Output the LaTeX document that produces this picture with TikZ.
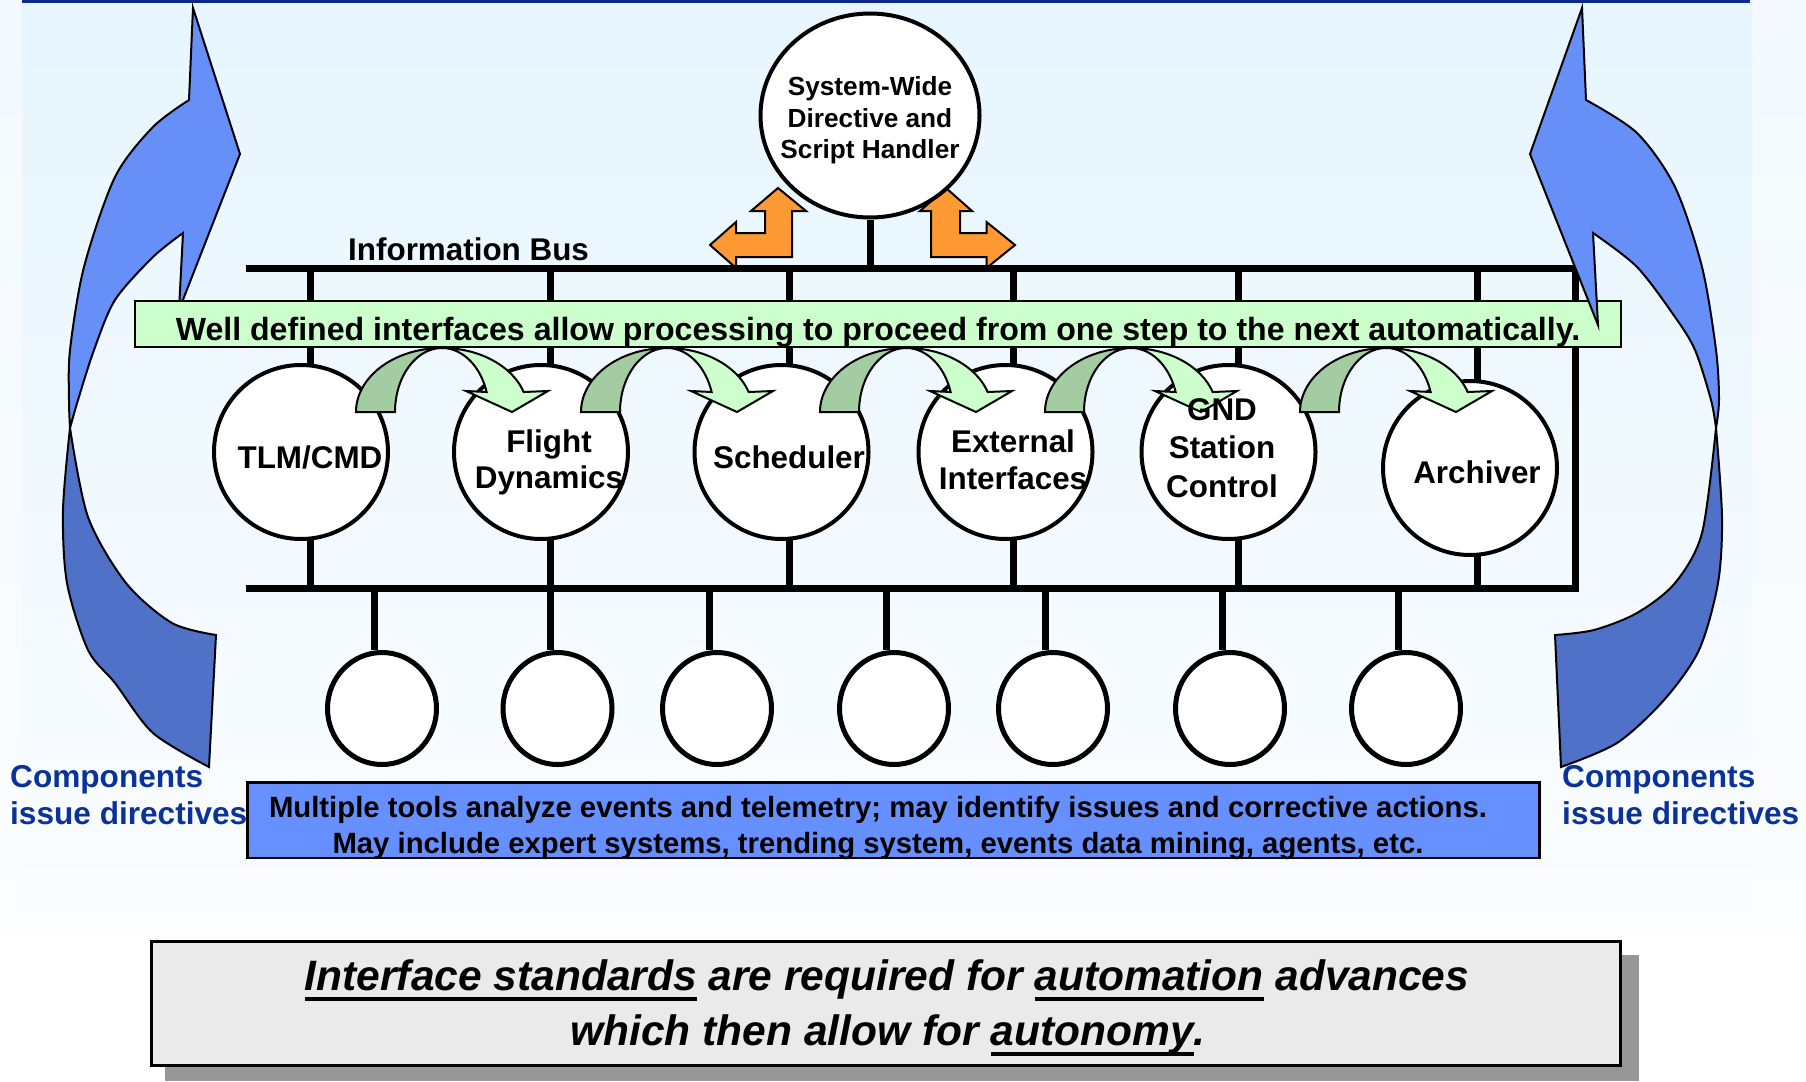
\documentclass[tikz,border=0pt]{standalone}
\usepackage{fontspec}
\setmainfont{Liberation Sans}
\usetikzlibrary{shapes.geometric}
\definecolor{bgtop}{HTML}{E6F5FE}
\definecolor{bgbot}{HTML}{FBFDFF}
\definecolor{sidetop}{HTML}{F3F9FD}
\definecolor{topline}{HTML}{0B2A8A}
\definecolor{blueL}{HTML}{6690F8}
\definecolor{blueD}{HTML}{4F72C8}
\definecolor{txtblue}{HTML}{0A3399}
\definecolor{greenL}{HTML}{CCFFCC}
\definecolor{greenD}{HTML}{A3CCA3}
\definecolor{orangeA}{HTML}{FF9933}
\definecolor{boxblue}{HTML}{6690FF}
\definecolor{boxgray}{HTML}{EAEAEA}
\definecolor{shadowgray}{HTML}{969696}
\newcommand\myul[1]{\setbox0\hbox{#1}\rlap{\rule[-11pt]{\wd0}{4pt}}\box0\relax}
\begin{document}
\begin{tikzpicture}[x=1pt,y=-1pt,line join=miter,
  bus/.style={line width=7pt},
  comp/.style={circle,draw=black,line width=4pt,fill=white,minimum size=174pt,inner sep=0pt},
  tool/.style={ellipse,draw=black,line width=5pt,fill=white,minimum width=109pt,minimum height=112pt,inner sep=0pt},
  sysnode/.style={ellipse,draw=black,line width=4pt,fill=white,minimum width=219pt,minimum height=204pt,inner sep=0pt},
  lbl/.style={font=\bfseries\fontsize{31.4}{36}\selectfont,inner sep=0pt,anchor=base},
  syslbl/.style={font=\bfseries\fontsize{26.2}{30}\selectfont,inner sep=0pt,anchor=base},
  side/.style={font=\bfseries\fontsize{31.6}{36}\selectfont,text=txtblue,inner sep=0pt,anchor=base west},
  tooltxt/.style={font=\bfseries\fontsize{29.3}{34}\selectfont,inner sep=0pt,anchor=base},
  concl/.style={font=\bfseries\itshape\fontsize{42.5}{50}\selectfont,inner sep=0pt,anchor=base},
  blueA/.style={fill=blueL,draw=black,line width=2pt},
  blueB/.style={fill=blueD,draw=black,line width=2pt},
  gdark/.style={fill=greenD,draw=black,line width=2pt},
  glight/.style={fill=greenL,draw=black,line width=2pt},
  orng/.style={fill=orangeA,draw=black,line width=2pt}]
\useasboundingbox (0,0) rectangle (1806,1081);
% background
\fill[white] (0,0) rectangle (1806,1081);
\fill[top color=sidetop,bottom color=bgbot] (0,0) rectangle (1806,935);
\fill[top color=bgtop,bottom color=bgbot] (22,0) rectangle (1752,935);
\draw[topline,line width=3pt] (22,1.5) -- (1750,1.5);

% left blue curved arrow
\filldraw[blueB] (70,428) -- plot[smooth] coordinates {(70,428) (88,517) (126,583) (172,623) (216,635)}
  -- (209,767) -- plot[smooth] coordinates {(209,767) (153,733) (115,683) (88,650) (67,583) (63,510) (70,428)} -- cycle;
\filldraw[blueA] (193,8) -- (240,154) -- (179,310) -- (183,233)
  -- plot[smooth] coordinates {(183,233) (153,257) (115,300) (94,350) (78,400) (70,428)}
  -- plot[smooth] coordinates {(70,428) (69,400) (70,350) (84,267) (115,177) (153,127) (189,100)} -- cycle;

% orange arrows
\filldraw[orng] (710,245) -- (736,222) -- (736,233) -- (765,233) -- (765,211) -- (751,211) -- (778,188)
  -- (806,211) -- (792,211) -- (792,257) -- (736,257) -- (736,268) -- cycle;
\filldraw[orng] (1015,245) -- (986.5,222) -- (986.5,233) -- (960,233) -- (960,211) -- (972,211) -- (946,188)
  -- (920,211) -- (931,211) -- (931,257) -- (986.5,257) -- (986.5,268) -- cycle;

% information bus
\coordinate (busTL) at (246,268);
\coordinate (busTR) at (1575,268);
\coordinate (busBR) at (1575,588);
\coordinate (busBL) at (246,588);
\foreach \dx [count=\i] in {310,550,789,1013,1238,1477}{
  \coordinate (dt\i) at (\dx,268);
  \coordinate (db\i) at (\dx,588);
  \draw[bus] (dt\i) -- (db\i);
}
\draw[bus] (busTL) -- (busTR) -- (busBR) -- (busBL);

% system-wide handler
\node[sysnode] (sys) at (870,115.5) {};
\draw[bus] (sys.south) -- (sys.south |- busTL);
\node[syslbl] (s1) at (870,95) {System-Wide};
\node[syslbl] (s2) at (870,127) {Directive and};
\node[syslbl] (s3) at (870,158) {Script Handler};

% components
\node[comp] (c1) at (301,452) {};
\node[comp] (c2) at (541,452) {};
\node[comp] (c3) at (781.5,452) {};
\node[comp] (c4) at (1005.5,452) {};
\node[comp] (c5) at (1228.5,452) {};
\node[comp] (c6) at (1470,468) {};

% green process arrows
\foreach \cx in {442,667,906,1131,1386}{
  \filldraw[gdark] (\cx-86,412) -- plot[domain=180:90,samples=30] ({\cx+86*cos(\x)},{412-64*sin(\x)})
    -- plot[domain=90:180,samples=30] ({\cx+47*cos(\x)},{412-64*sin(\x)}) -- cycle;
  \filldraw[glight] (\cx,348) -- plot[domain=90:18.2,samples=30] ({\cx+86*cos(\x)},{412-64*sin(\x)})
    -- (\cx+106,391) -- (\cx+70,412) -- (\cx+24,391)
    -- plot[domain=18.2:90,samples=30] ({\cx+47*cos(\x)},{412-64*sin(\x)}) -- cycle;
}

% component labels
\node[lbl] (l1) at (310,468) {TLM/CMD};
\node[lbl] (l2a) at (549,452) {Flight};
\node[lbl] (l2b) at (549,488) {Dynamics};
\node[lbl] (l3) at (789,468) {Scheduler};
\node[lbl] (l4a) at (1013,452) {External};
\node[lbl] (l4b) at (1013,489) {Interfaces};
\node[lbl] (l5a) at (1222,420) {GND};
\node[lbl] (l5b) at (1222,458) {Station};
\node[lbl] (l5c) at (1222,497) {Control};
\node[lbl] (l6) at (1477,483) {Archiver};

% green banner
\node[draw=black,line width=1.5pt,fill=greenL,minimum width=1486pt,minimum height=46pt,inner sep=0pt,
  text height=32pt,text depth=0pt,font=\bfseries\fontsize{32.1}{36}\selectfont] (wd) at (878,324)
  {Well defined interfaces allow processing to proceed from one step to the next automatically.};

% right blue curved arrow
\filldraw[blueB] (1716,428) -- plot[smooth] coordinates {(1716,428) (1702,533) (1675,583) (1637,613) (1594,630) (1555,635)}
  -- (1561,767) -- plot[smooth] coordinates {(1561,767) (1617,743) (1664,700) (1699,650) (1718,583) (1722,517) (1716,428)} -- cycle;
\filldraw[blueA] (1582,8) -- (1530,154) -- (1598,325) -- (1593,233)
  -- plot[smooth] coordinates {(1593,233) (1637,267) (1675,317) (1695,350) (1711,400) (1716,428)}
  -- plot[smooth] coordinates {(1716,428) (1719,400) (1716,350) (1702,267) (1675,187) (1637,133) (1586,100)} -- cycle;

\node[lbl,anchor=base west] (ib) at (348,260) {Information Bus};

% analysis tools
\foreach \tx/\dx [count=\i] in {382/374.6,557.5/550,717/709.5,894/886,1053/1045,1230/1222.7,1406/1398}{
  \node[tool] (t\i) at (\tx,708.5) {};
  \coordinate (bd\i) at (\dx,588);
  \draw[bus] (bd\i) -- (bd\i |- t\i.north);
}
\node[draw=black,line width=2.5pt,fill=boxblue,minimum width=1292pt,minimum height=75.5pt,inner sep=0pt] (tb) at (893.7,820) {};
\node[tooltxt] (tt1) at (878,817) {Multiple tools analyze events and telemetry; may identify issues and corrective actions.};
\node[tooltxt] (tt2) at (878,853) {May include expert systems, trending system, events data mining, agents, etc.};

% side labels
\node[side] (cl1) at (10,787) {Components};
\node[side] (cl2) at (10,824) {issue directives};
\node[side] (cr1) at (1562,787) {Components};
\node[side] (cr2) at (1562,824) {issue directives};

% conclusion box
\fill[shadowgray] (165,955) rectangle (1639,1081);
\node[draw=black,line width=3pt,fill=boxgray,minimum width=1469pt,minimum height=124pt,inner sep=0pt] (cb) at (886,1003.5) {};
\node[concl] (con1) at (887,990) {\myul{Interface standards} are required for \myul{automation} advances};
\node[concl] (con2) at (888,1045) {which then allow for \myul{autonomy}.};
\end{tikzpicture}
\end{document}
